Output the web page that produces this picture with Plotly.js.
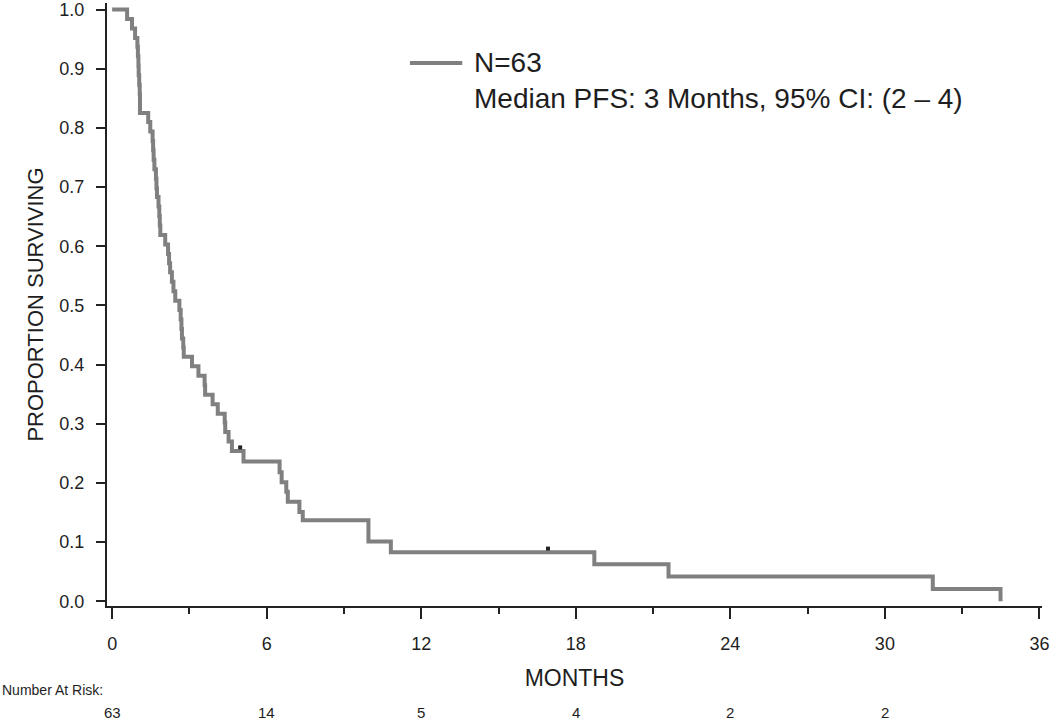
<!DOCTYPE html>
<html>
<head>
<meta charset="utf-8">
<script src="https://cdn.plot.ly/plotly-3.0.1.min.js"></script>
<style>html,body{margin:0;padding:0;background:#fff;}#chart{width:1050px;height:721px;}</style>
</head>
<body>
<div id="chart"></div>
<script>
// Kaplan-Meier step data (time of event in months, survival after the event)
var months = [0, 0.58, 0.77, 0.89, 0.98, 1.00, 1.02, 1.03, 1.05, 1.07, 1.08,
  1.40, 1.48, 1.57, 1.59, 1.61, 1.64, 1.70, 1.72, 1.74, 1.80, 1.83, 1.85, 1.87,
  2.06, 2.17, 2.21, 2.25, 2.32, 2.38, 2.45, 2.61, 2.66, 2.69, 2.71, 2.76, 2.78,
  3.10, 3.35, 3.59, 3.61, 3.90, 4.10, 4.37, 4.39, 4.52, 4.65, 5.10,
  6.50, 6.58, 6.76, 6.82, 7.27, 7.40, 9.95, 10.82, 18.72, 21.60, 31.86, 34.49];
var survival = [1.000, 0.984, 0.968, 0.952, 0.937, 0.921, 0.905, 0.889, 0.873, 0.857, 0.825,
  0.810, 0.794, 0.778, 0.762, 0.746, 0.730, 0.714, 0.698, 0.683, 0.667, 0.651, 0.635, 0.619,
  0.603, 0.587, 0.571, 0.556, 0.540, 0.524, 0.508, 0.492, 0.476, 0.460, 0.444, 0.429, 0.413,
  0.397, 0.381, 0.365, 0.349, 0.333, 0.317, 0.302, 0.286, 0.270, 0.254, 0.236,
  0.218, 0.201, 0.185, 0.168, 0.151, 0.137, 0.101, 0.083, 0.0625, 0.0417, 0.0208, 0.000];
// Censored observations
var censorMonths = [4.97, 16.92];
var censorSurvival = [0.254, 0.083];
// Number at risk
var riskMonths = [0, 6, 12, 18, 24, 30];
var riskCounts = [63, 14, 5, 4, 2, 2];
// Axis ticks
var xTicks = [0, 6, 12, 18, 24, 30, 36];
var xMinorTicks = [3, 9, 15, 21, 27, 33];
var yTicks = [0, 0.1, 0.2, 0.3, 0.4, 0.5, 0.6, 0.7, 0.8, 0.9, 1.0];
var legendTitle = "N=63";
var legendNote = "Median PFS: 3 Months, 95% CI: (2 \u2013 4)";

var FONT = "Liberation Sans, Arial, Helvetica, sans-serif";
var INK = "#1e1e1e";
var CURVE = "rgb(128,128,128)";

var traces = [
  {x: months, y: survival, type: "scatter", mode: "lines",
   line: {shape: "hv", color: CURVE, width: 4}, name: legendTitle, showlegend: false,
   hoverinfo: "x+y"},
  {x: censorMonths, y: censorSurvival.map(function(v){ return v + 0.006; }),
   type: "scatter", mode: "markers", showlegend: false,
   marker: {symbol: "square", size: 4, color: "#222", line: {width: 0}}, hoverinfo: "skip"}
];

var annotations = [
  {text: legendTitle, xref: "paper", yref: "paper", x: 0.390, y: 0.9005,
   xanchor: "left", yanchor: "middle", showarrow: false, font: {family: FONT, size: 28, color: INK}},
  {text: legendNote, xref: "paper", yref: "paper", x: 0.390, y: 0.841,
   xanchor: "left", yanchor: "middle", showarrow: false, font: {family: FONT, size: 28, color: INK}},
  {text: "Number At Risk:", xref: "paper", yref: "paper", x: -0.1144, y: -0.139,
   xanchor: "left", yanchor: "middle", showarrow: false, font: {family: FONT, size: 14, color: INK}}
];
riskMonths.forEach(function(m, i){
  annotations.push({text: String(riskCounts[i]), xref: "x", yref: "paper", x: m, y: -0.176,
    xanchor: "center", yanchor: "middle", showarrow: false, font: {family: FONT, size: 15, color: INK}});
});

var layout = {
  width: 1050, height: 721,
  margin: {l: 107, r: 8, t: 3, b: 115},
  paper_bgcolor: "#fff", plot_bgcolor: "#fff",
  font: {family: FONT, color: INK},
  showlegend: false,
  xaxis: {
    range: [-0.2, 36.1], tickvals: xTicks, ticktext: xTicks.map(String),
    ticks: "outside", ticklen: 11, tickwidth: 2, tickcolor: "#222",
    showline: true, linecolor: "#222", linewidth: 2, showgrid: false, zeroline: false,
    minor: {tickvals: xMinorTicks, ticks: "outside", ticklen: 6, tickwidth: 2, tickcolor: "#222", showgrid: false},
    tickfont: {family: FONT, size: 18, color: INK}, ticklabelstandoff: 9,
    ticklabeloverflow: "allow",
    title: {text: "MONTHS", font: {family: FONT, size: 23, color: INK}, standoff: 17},
    fixedrange: true
  },
  yaxis: {
    range: [-0.008, 1.011], tickvals: yTicks, tickformat: ".1f",
    ticks: "outside", ticklen: 9, tickwidth: 2, tickcolor: "#222",
    showline: true, linecolor: "#222", linewidth: 2, showgrid: false, zeroline: false,
    tickfont: {family: FONT, size: 18, color: INK}, ticklabelstandoff: 8,
    ticklabeloverflow: "allow",
    title: {text: "PROPORTION SURVIVING", font: {family: FONT, size: 22, color: INK}, standoff: 10},
    fixedrange: true
  },
  shapes: [
    {type: "line", xref: "paper", yref: "paper", x0: 0.324, x1: 0.380, y0: 0.9005, y1: 0.9005,
     line: {color: CURVE, width: 4}}
  ],
  annotations: annotations
};

Plotly.newPlot("chart", traces, layout, {displayModeBar: false, staticPlot: true});
</script>
</body>
</html>
